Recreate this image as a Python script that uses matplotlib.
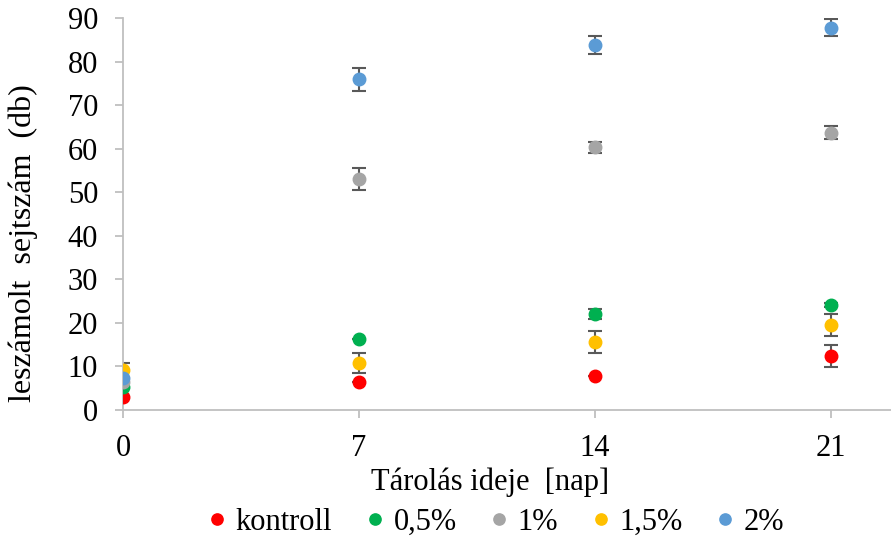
import numpy as np
import matplotlib.pyplot as plt

plt.rcParams['font.family'] = ['Liberation Serif', 'DejaVu Serif']

# tárolási idő (nap)
napok = [0, 7, 14, 21]

# átlagok és szórások (leolvasva)
kontroll = [3.0, 6.4, 7.9, 12.4]
kontroll_err = [0.0, 0.0, 0.0, 2.5]
fel_szazalek = [5.3, 16.2, 22.0, 24.1]
fel_szazalek_err = [0.0, 0.0, 1.1, 0.5]
egy_szazalek = [6.5, 53.0, 60.3, 63.7]
egy_szazalek_err = [0.0, 2.6, 1.2, 1.5]
masfel_szazalek = [9.2, 10.8, 15.6, 19.6]
masfel_szazalek_err = [1.7, 2.4, 2.5, 2.5]
ket_szazalek = [7.3, 75.9, 83.8, 87.8]
ket_szazalek_err = [0.0, 2.7, 2.1, 2.0]

sorozatok = ['kontroll', '0,5%', '1%', '1,5%', '2%']
szinek = ['#FF0000', '#00B050', '#A5A5A5', '#FFC000', '#5B9BD5']
ertekek = [kontroll, fel_szazalek, egy_szazalek, masfel_szazalek, ket_szazalek]
hibak = [kontroll_err, fel_szazalek_err, egy_szazalek_err,
         masfel_szazalek_err, ket_szazalek_err]

fig = plt.figure(figsize=(8.91, 5.43), dpi=100)
ax = fig.add_axes([123 / 891, 133 / 543, 768 / 891, 392 / 543])

for nev, szin, y, e in zip(sorozatok, szinek, ertekek, hibak):
    ax.errorbar(napok, y, yerr=e, fmt='none', ecolor='#595959',
                elinewidth=1.5, capsize=5, capthick=1.5, zorder=2)
    ax.plot(napok, y, 'o', color=szin, markersize=9, label=nev, zorder=3)

ax.set_xlim(0, 22.78)
ax.set_ylim(0, 90)
ax.set_xticks(napok)
ax.set_yticks(np.arange(0, 91, 10))

for s in ['top', 'right']:
    ax.spines[s].set_visible(False)
for s in ['left', 'bottom']:
    ax.spines[s].set_color('#BFBFBF')
    ax.spines[s].set_linewidth(1.3)
ax.tick_params(axis='both', colors='#BFBFBF', labelcolor='black',
               labelsize=22, length=6, width=1.3)
ax.tick_params(axis='y', pad=12)
ax.tick_params(axis='x', pad=11)

ax.set_xlabel('Tárolás ideje  [nap]', fontsize=22)
ax.xaxis.set_label_coords(0.478, -0.184)
ax.xaxis.label.set_va('center')
ax.set_ylabel('leszámolt  sejtszám  (db)', fontsize=23)
ax.yaxis.set_label_coords(-0.130, 0.426)
ax.yaxis.label.set_va('center')

ax.legend(loc='center', bbox_to_anchor=(0.482, -0.286),
          ncol=5, frameon=False, fontsize=22, handletextpad=0.1,
          columnspacing=0.9, markerscale=0.9, handlelength=1.0,
          borderaxespad=0)

fig.savefig('out.png', dpi=100)
